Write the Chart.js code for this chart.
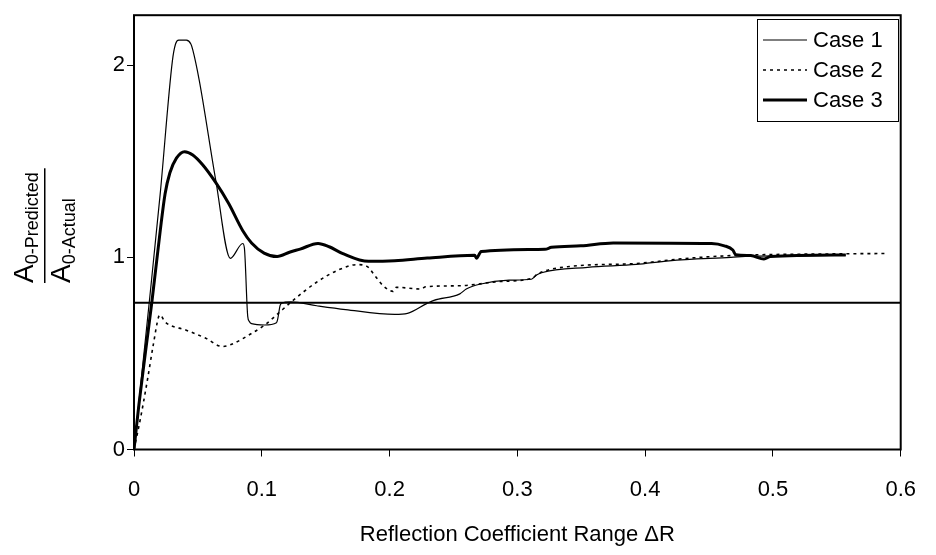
<!DOCTYPE html>
<html lang="en">
<head>
  <meta charset="UTF-8">
  <title>A0 predicted / actual vs reflection coefficient range</title>
  <script src="https://cdn.jsdelivr.net/npm/chart.js"></script>
  <style>
    body { margin: 0; background: #fff; }
    #chart { display: block; }
  </style>
</head>
<body>
  <canvas id="chart" width="936" height="555"></canvas>

  <script>
    // values
    const seriesNames = ['Case 1', 'Case 2', 'Case 3'];

    const case1X = [0, 0.012, 0.0205, 0.030, 0.0325, 0.035, 0.041, 0.0445, 0.046, 0.0511, 0.064, 0.0754,
      0.0851, 0.0864, 0.089, 0.0902, 0.092, 0.1022, 0.1115, 0.1125, 0.1143, 0.1155, 0.1227, 0.143, 0.1656,
      0.204, 0.214, 0.229, 0.2347, 0.255, 0.260, 0.2705, 0.2935, 0.311, 0.315, 0.319, 0.355, 0.393, 0.4187,
      0.467, 0.4826, 0.52, 0.557];
    const case1Y = [0, 0.77, 1.33, 2.02, 2.11, 2.13, 2.13, 2.11, 2.08, 1.92, 1.40, 0.995,
      1.072, 1.048, 0.693, 0.667, 0.655, 0.648, 0.66, 0.68, 0.749, 0.762, 0.768, 0.748, 0.728,
      0.703, 0.708, 0.759, 0.776, 0.81, 0.835, 0.860, 0.881, 0.886, 0.908, 0.92, 0.948, 0.963, 0.982,
      1.0, 1.006, 1.008, 1.012];

    const case2X = [0, 0.0051, 0.0102, 0.0153, 0.0192, 0.0204, 0.0243, 0.0409, 0.0562, 0.069, 0.0754,
      0.092, 0.1022, 0.1125, 0.1227, 0.1426, 0.1605, 0.1746, 0.1823, 0.1887, 0.195, 0.2027, 0.2053,
      0.2245, 0.2283, 0.255, 0.2858, 0.3113, 0.3165, 0.342, 0.393, 0.4315, 0.467, 0.549, 0.59];
    const case2Y = [0, 0.163, 0.35, 0.553, 0.689, 0.70, 0.664, 0.621, 0.579, 0.536, 0.545,
      0.604, 0.647, 0.706, 0.766, 0.869, 0.936, 0.962, 0.953, 0.903, 0.852, 0.823, 0.844,
      0.835, 0.847, 0.852, 0.874, 0.891, 0.916, 0.953, 0.968, 0.994, 1.009, 1.018, 1.02];

    const case3X = [0, 0.0038, 0.0089, 0.0141, 0.0204, 0.0243, 0.0281, 0.0332, 0.0396, 0.046, 0.0537,
      0.0639, 0.0741, 0.085, 0.092, 0.1018, 0.112, 0.1222, 0.13, 0.144, 0.1528, 0.163, 0.1835, 0.204,
      0.2295, 0.2666, 0.268, 0.2717, 0.3216, 0.3267, 0.3497, 0.375, 0.452, 0.462, 0.4686, 0.471, 0.4826,
      0.493, 0.498, 0.557];
    const case3Y = [0, 0.231, 0.503, 0.774, 1.131, 1.33, 1.44, 1.516, 1.55, 1.533, 1.482,
      1.39, 1.28, 1.14, 1.075, 1.022, 1.004, 1.028, 1.043, 1.072, 1.055, 1.021, 0.979, 0.982,
      0.996, 1.011, 0.995, 1.03, 1.042, 1.052, 1.06, 1.075, 1.072, 1.06, 1.038, 1.013, 1.009,
      0.991, 1.004, 1.012];

    // horizontal reference line
    const refX = [0, 0.6];
    const refY = [0.764, 0.764];

    const xTicks = [0, 0.1, 0.2, 0.3, 0.4, 0.5, 0.6];
    const xTickLabels = ['0', '0.1', '0.2', '0.3', '0.4', '0.5', '0.6'];
    const yTicks = [0, 1, 2];
    const yTickLabels = ['0', '1', '2'];

    const xTitle = 'Reflection Coefficient Range \u0394R';
    const yTitleTop = ['A', '0-Predicted'];
    const yTitleBottom = ['A', '0-Actual'];

    const FONT = "'Liberation Sans', Arial, sans-serif";

    const toPoints = (xs, ys) => xs.map((x, i) => ({ x: x, y: ys[i] }));

    // box round the plot area
    const framePlugin = {
      id: 'frame',
      afterDatasetsDraw(chart) {
        const { ctx, chartArea: a } = chart;
        ctx.save();
        ctx.strokeStyle = '#000';
        ctx.lineWidth = 2;
        ctx.strokeRect(a.left, a.top, a.right - a.left, a.bottom - a.top);
        ctx.restore();
      }
    };

    // y title as a fraction with subscripts, written bottom to top
    const yTitlePlugin = {
      id: 'yTitle',
      afterDraw(chart) {
        const ctx = chart.ctx;
        const big = 28, small = 18;
        ctx.save();
        ctx.translate(0, 283);
        ctx.rotate(-Math.PI / 2);
        ctx.fillStyle = '#000';
        ctx.textBaseline = 'alphabetic';
        ctx.textAlign = 'left';

        function part(pair, base) {
          ctx.font = big + 'px ' + FONT;
          ctx.fillText(pair[0], 0, base);
          const w = ctx.measureText(pair[0]).width;
          ctx.font = small + 'px ' + FONT;
          ctx.fillText(pair[1], w, base + 5);
          return w + ctx.measureText(pair[1]).width;
        }
        const w1 = part(yTitleTop, 33);
        part(yTitleBottom, 70);

        ctx.fillRect(0, 44, w1 + 4, 1.5);
        ctx.restore();
      }
    };

    // legend box inside the plot, top right
    const legendPlugin = {
      id: 'boxLegend',
      afterDraw(chart) {
        const ctx = chart.ctx;
        const box = { x: 757, y: 19, w: 141, h: 102 };
        ctx.save();
        ctx.fillStyle = '#fff';
        ctx.fillRect(box.x, box.y, box.w, box.h);
        ctx.strokeStyle = '#000';
        ctx.lineWidth = 1;
        ctx.strokeRect(box.x + 0.5, box.y + 0.5, box.w, box.h);

        ctx.font = '22px ' + FONT;
        ctx.textBaseline = 'middle';
        ctx.fillStyle = '#000';
        seriesNames.forEach((name, i) => {
          const ds = chart.data.datasets[i];
          const y = box.y + 21 + i * 30;
          ctx.beginPath();
          ctx.lineWidth = ds.borderWidth;
          ctx.setLineDash(ds.borderDash || []);
          ctx.moveTo(box.x + 6, y);
          ctx.lineTo(box.x + 50, y);
          ctx.stroke();
          ctx.setLineDash([]);
          ctx.fillText(name, box.x + 56, y + 1);
        });
        ctx.restore();
      }
    };

    const lineStyle = { borderColor: '#000', pointRadius: 0, fill: false, cubicInterpolationMode: 'monotone' };

    const ctx = document.getElementById('chart').getContext('2d');
    new Chart(ctx, {
      type: 'line',
      data: {
        datasets: [
          Object.assign({ label: seriesNames[0], data: toPoints(case1X, case1Y), borderWidth: 1.2 }, lineStyle),
          Object.assign({ label: seriesNames[1], data: toPoints(case2X, case2Y), borderWidth: 1.6,
            borderDash: [3, 4] }, lineStyle),
          Object.assign({ label: seriesNames[2], data: toPoints(case3X, case3Y), borderWidth: 3 }, lineStyle),
          { label: 'ref', data: toPoints(refX, refY), borderColor: '#000', borderWidth: 2,
            pointRadius: 0, tension: 0, fill: false }
        ]
      },
      options: {
        responsive: false,
        animation: false,
        layout: { padding: { top: 5, right: 20, left: 0, bottom: 0 } },
        plugins: {
          legend: { display: false },
          tooltip: { enabled: false }
        },
        scales: {
          x: {
            type: 'linear',
            min: 0,
            max: 0.6,
            afterBuildTicks: s => { s.ticks = xTicks.map(v => ({ value: v })); },
            afterFit: s => { s.height = 105.5; },
            border: { display: false },
            grid: { drawOnChartArea: false, color: '#000', lineWidth: 1, tickLength: 7 },
            ticks: {
              color: '#000', font: { family: FONT, size: 22 }, padding: 20,
              maxRotation: 0, autoSkip: false,
              callback: (v, i) => xTickLabels[i]
            },
            title: {
              display: true, text: xTitle, color: '#000',
              font: { family: FONT, size: 22 }, padding: { top: 0, bottom: 7 }
            }
          },
          y: {
            type: 'linear',
            min: 0,
            max: 2.26,
            afterBuildTicks: s => { s.ticks = yTicks.map(v => ({ value: v })); },
            afterFit: s => { s.width = 134; },
            border: { display: false },
            grid: { drawOnChartArea: false, color: '#000', lineWidth: 1, tickLength: 7 },
            ticks: {
              color: '#000', font: { family: FONT, size: 22 }, padding: 2,
              callback: (v, i) => yTickLabels[i]
            }
          }
        }
      },
      plugins: [framePlugin, yTitlePlugin, legendPlugin]
    });
  </script>
</body>
</html>
